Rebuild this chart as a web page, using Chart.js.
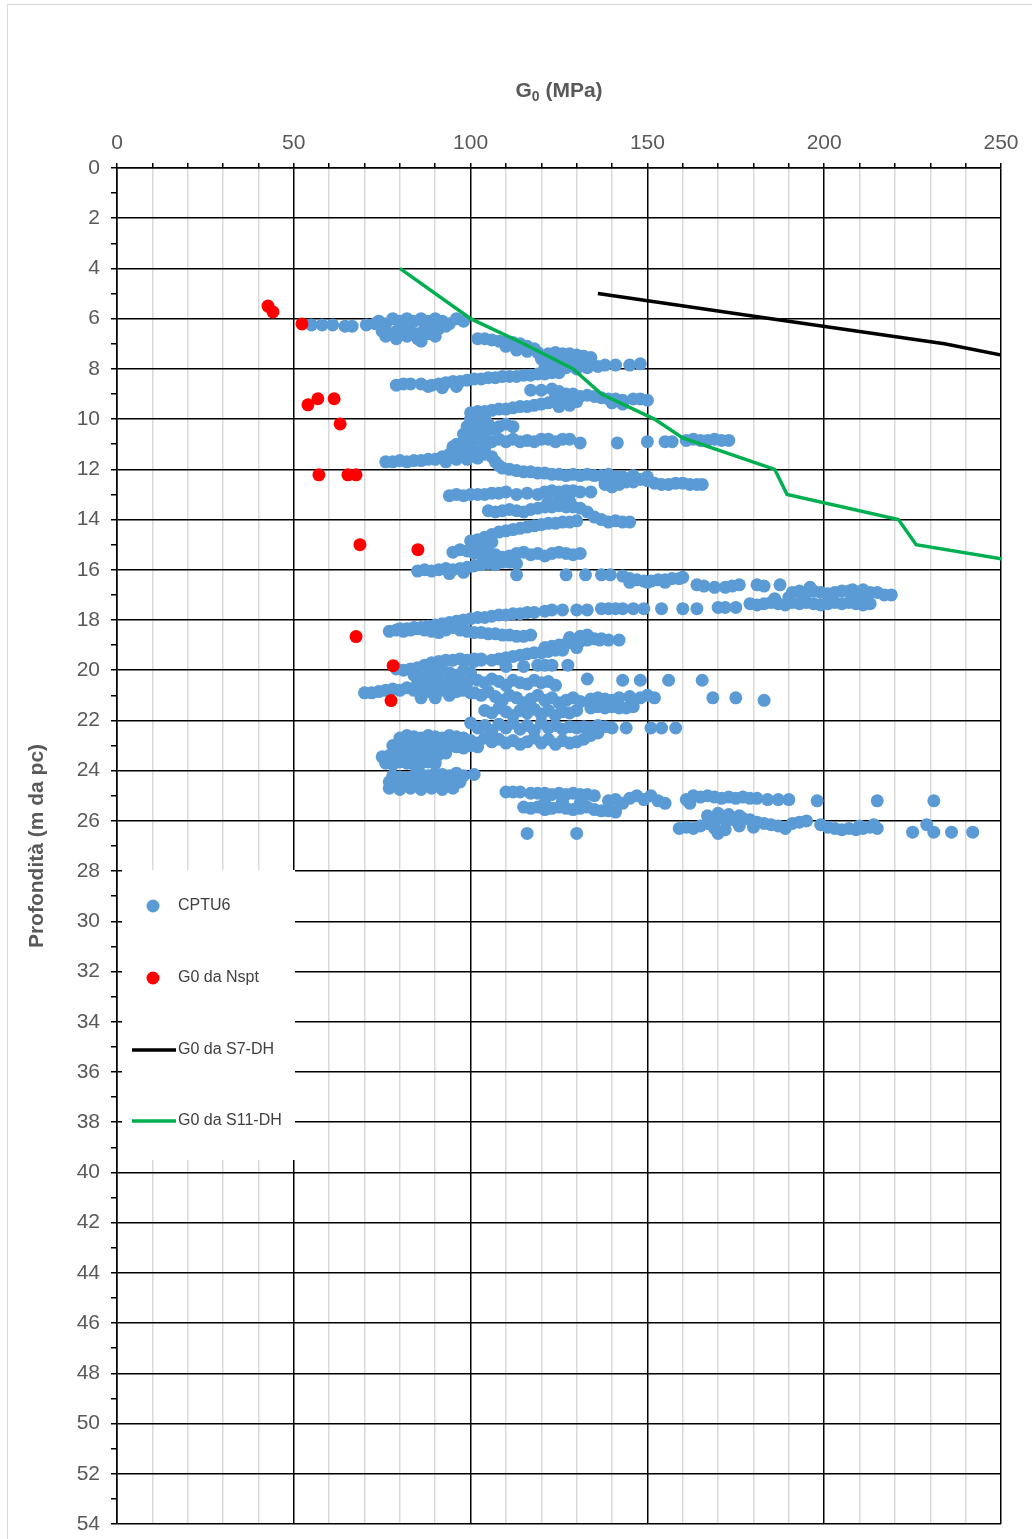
<!DOCTYPE html>
<html>
<head>
<meta charset="utf-8">
<script src="https://cdn.jsdelivr.net/npm/chart.js@4.4.0/dist/chart.umd.min.js"></script>
<style>
  html, body { margin: 0; padding: 0; background: #fff; }
  #frame { position: absolute; left: 7px; top: 4px; width: 1040px; height: 1560px; border: 1px solid #d9d9d9; }
  #g0 { position: absolute; left: 0; top: 0; }
</style>
</head>
<body>
<div id="frame"></div>
<canvas id="g0" width="1032" height="1539"></canvas>
<script>
// CPTU6 points, [G0 MPa, depth m], grouped by depth band
const cptu_06 = [[55,6.25],[58,6.25],[61,6.25],[64.5,6.3],[66.5,6.3],[70.5,6.25],[73,6.2],
  [74,6.1],[76,6.2],[78,6.0],[80,6.1],[82,6.0],[84,6.1],[86,6.0],[88,6.1],[90,6.0],[92,6.1],[94,6.2],[96,6.0],[98,6.1],
  [75,6.5],[77,6.6],[79,6.5],[81,6.4],[83,6.5],[85,6.6],[87,6.4],[89,6.5],[91,6.4],[93,6.3],
  [76,6.7],[79,6.8],[82,6.7],[85,6.8],[88,6.6],[90,6.7],[86,6.9]];
const cptu_07 = [[102,6.8],[104,6.8],[106,6.85],[108,6.9],[110,6.9],[112,6.95],[114,7.0],[116,7.1],[118,7.2],
  [110,7.1],[113,7.25],[116,7.3],[119,7.35],[122,7.4],[124,7.35],[126,7.4],[128,7.4],[130,7.45],[132,7.5],[134,7.55],
  [120,7.6],[122,7.7],[124,7.8],[126,7.75],[128,7.8],[130,7.7],[132,7.8],[134,7.85],[136,7.9],
  [121,7.95],[124,8.0],[127,7.95],[130,8.0],[133,7.95],[138,7.85],[141,7.85],[145,7.85],[148,7.8]];
const cptu_08 = [[79,8.65],[81,8.6],[83,8.6],[86,8.6],[89,8.65],[91,8.6],[93,8.55],[95,8.5],[97,8.5],[99,8.45],
  [101,8.4],[103,8.4],[105,8.35],[107,8.35],[109,8.3],[111,8.3],[113,8.3],[115,8.25],[117,8.25],[119,8.2],
  [121,8.2],[123,8.15],[125,8.15],[96,8.7],[92,8.75],[88,8.7]];
const cptu_09 = [[117,8.85],[120,8.85],[123,8.8],[125,8.9],[127,9.0],[129,9.0],[131,9.1],[133,9.05],[135,9.1],
  [137,9.15],[139,9.2],[141,9.2],[143,9.25],[140,9.35],[143,9.4],[146,9.2],[148,9.2],[150,9.25],[124,9.1],[126,9.2],[130,9.3],
  [100,9.75],[102,9.7],[104,9.7],[106,9.65],[108,9.6],[110,9.6],[112,9.55],[114,9.5],[116,9.5],[118,9.45],
  [120,9.4],[122,9.35],[125,9.5],[128,9.45]];
const cptu_10 = [[100,10.0],[102,10.1],[104,10.0],[99,10.3],[101,10.4],[103,10.3],[105,10.2],[98,10.6],[100,10.7],
  [102,10.6],[104,10.5],[106,10.4],[108,10.3],[110,10.2],[112,10.3],
  [96,11.0],[98,10.9],[100,11.0],[102,10.8],[104,10.9],[106,10.9],[108,10.8],[110,10.9],[112,10.8],[114,10.9],
  [116,10.85],[118,10.9],[120,10.8],[122,10.8],[124,10.9],[126,10.8],[128,10.8],[131,10.95],[141.5,10.95],
  [150,10.9],[155,10.9],[157,10.9],[161,10.85],[163,10.8],[165,10.85],[167,10.85],[169,10.8],[171,10.85],[173,10.85]];
const cptu_11 = [[76,11.7],[78,11.7],[80,11.65],[82,11.7],[84,11.65],[86,11.65],[88,11.6],[90,11.6],[92,11.5],
  [94,11.4],[96,11.3],[98,11.2],[100,11.2],[102,11.3],[104,11.4],[106,11.5],[93,11.7],[96,11.6],[99,11.6],
  [102,11.55],[95,11.1],[100,11.1],[104,11.15]];
const cptu_12 = [[107,11.7],[108,11.85],[109,11.95],[111,12.0],[113,12.05],[115,12.1],[117,12.1],[119,12.15],
  [121,12.15],[123,12.2],[125,12.2],[127,12.25],[129,12.2],[131,12.25],[133,12.2],[135,12.25],[137,12.25],
  [139,12.2],[141,12.3],[143,12.3],
  [138,12.6],[140,12.7],[142,12.6],[144,12.5],[146,12.5],[148,12.4],[150,12.45],[152,12.55],[154,12.6],
  [156,12.6],[158,12.55],[160,12.55],[162,12.6],[164,12.6],[165.5,12.6],[146,12.25],[150,12.3]];
const cptu_13 = [[94,13.05],[96,13.0],[98,13.05],[100,13.0],[102,13.0],[104,13.0],[106,12.95],[108,12.95],
  [110,12.9],[113,13.0],[116,12.95],[119,13.0],[121,12.9],[123,12.85],[125,12.9],[127,12.85],[129,12.85],
  [131,12.9],[134,12.9],
  [105,13.65],[107,13.7],[109,13.65],[111,13.6],[113,13.65],[115,13.7],[117,13.6],[119,13.55],[121,13.5],
  [123,13.5],[125,13.45],[127,13.5],[129,13.5],[131,13.55],[133,13.7],[135,13.9],[137,14.0],[139,14.1],
  [141,14.05],[143,14.1],[145,14.1],[122,13.3],[125,13.2],[128,13.25]];
const cptu_14 = [[100,14.85],[102,14.8],[104,14.7],[106,14.6],[108,14.5],[110,14.45],[112,14.4],[114,14.35],
  [116,14.3],[118,14.25],[120,14.2],[122,14.15],[124,14.15],[126,14.1],[128,14.1],[130,14.05],
  [102,15.1],[104,15.0],[106,14.9],[103,14.95]];
const cptu_15 = [[95,15.3],[97,15.2],[99,15.25],[101,15.35],[103,15.4],[105,15.3],[107,15.4],[109,15.5],
  [111,15.45],[113,15.35],[115,15.3],[117,15.4],[119,15.35],[121,15.45],[123,15.35],[125,15.3],[127,15.35],
  [129,15.4],[131,15.35],
  [85,16.05],[87,16.0],[89,16.05],[91,16.0],[93,15.95],[95,16.0],[97,15.95],[99,15.9],[101,15.85],[103,15.8],
  [105,15.75],[107,15.8],[109,15.7],[111,15.7],[113,15.75],[94,16.15],[98,16.1],[113,16.2],[127,16.2],
  [132.5,16.2],[137,16.2],[139.5,16.2]];
const cptu_16 = [[143,16.25],[145,16.35],[147,16.4],[149,16.45],[151,16.45],[153,16.4],[155,16.4],[157,16.35],
  [159,16.35],[160,16.3],[145,16.5],[150,16.5],[155,16.5],[164,16.6],[166,16.65],[169,16.7],[172,16.7],
  [174,16.65],[176,16.6],[181,16.6],[183,16.65],[187.5,16.6],[191,16.9],[193,16.85],[195,16.9],[197,16.85],
  [199,16.9],[201,16.95],[203,16.9],[205,16.85],[207,16.85],[209,16.95],[211,16.95],[213,16.9],[215,16.9],
  [217,17.0],[219,17.0],[196,16.7],[208,16.8],[211,16.8],
  [179,17.35],[181,17.4],[183,17.35],[185,17.3],[187,17.35],[189,17.4],[191,17.3],[193,17.35],[195,17.3],
  [197,17.35],[199,17.4],[201,17.35],[203,17.3],[205,17.35],[207,17.3],[209,17.35],[211,17.4],[213,17.35],
  [186,17.15],[190,17.1],[194,17.2]];
const cptu_18 = [[80,18.35],[82,18.35],[84,18.3],[86,18.3],[88,18.25],[90,18.2],[92,18.15],[94,18.1],[96,18.05],
  [98,18.0],[100,17.95],[102,17.9],[104,17.9],[106,17.85],[108,17.8],[110,17.8],[112,17.75],[114,17.75],
  [116,17.7],[118,17.7],[121,17.65],[123,17.6],[126,17.6],[130,17.6],[133,17.6],[137,17.55],[139,17.55],
  [141,17.55],[143,17.55],[146,17.55],[149,17.55],[154,17.55],[160,17.55],[164,17.55],[170,17.5],[172,17.5],[175,17.5],
  [77,18.45],[79,18.4],[81,18.45],[83,18.4],[85,18.35],[87,18.4],[89,18.45],[91,18.5],[93,18.4],[95,18.3],
  [97,18.4],[99,18.45],[101,18.5],[103,18.5],[105,18.55],[107,18.55],[109,18.6],[111,18.6],[113,18.65],
  [115,18.65],[117,18.6]];
const cptu_19 = [[121,19.1],[123,19.05],[125,19.0],[127,18.95],[129,18.9],[131,18.85],[133,18.8],[135,18.75],
  [137,18.75],[139,18.8],[128,18.7],[131,18.65],[133,18.6],[136.5,18.8],[142,18.8],[126,19.2],[130,19.1],
  [106,19.6],[108,19.55],[110,19.5],[112,19.45],[114,19.4],[116,19.35],[118,19.3],[120,19.3],[122,19.25],
  [124,19.2],[101,19.65],[103,19.6],
  [110,19.85],[115,19.85],[119,19.8],[121,19.8],[123,19.8],[127.5,19.8]];
const cptu_20 = [[79,19.95],[81,20.0],[83,19.95],[85,19.9],[87,19.8],[89,19.7],[91,19.65],[93,19.6],[95,19.6],
  [97,19.55],[99,19.6],[101,19.55],[103,19.55],
  [84,20.2],[86,20.3],[88,20.2],[90,20.1],[92,20.0],[94,20.1],[96,20.2],[98,20.0],[100,20.1],
  [85,20.5],[87,20.6],[89,20.5],[91,20.4],[93,20.5],[95,20.6],[97,20.4],[99,20.5],
  [70,20.9],[72,20.9],[74,20.85],[76,20.8],[78,20.75],[80,20.8],[82,20.7],[84,20.8],[86,20.9],[88,20.85],
  [90,20.9],[92,20.8],[94,20.9],[96,20.85],[98,20.8],[100,20.9],[86,21.1],[90,21.1],[94,21.0]];
const cptu_21 = [[102,20.4],[104,20.5],[106,20.35],[108,20.45],[110,20.6],[112,20.4],[114,20.5],[116,20.55],
  [118,20.4],[120,20.5],[122,20.45],[124,20.6],[133,20.35],[143,20.4],[148,20.4],[156,20.4],[165.5,20.4],
  [101,20.9],[103,21.0],[105,20.85],[107,21.05],[109,21.2],[111,21.0],[113,21.1],[115,21.3],[117,21.15],
  [119,21.0],[121,21.2],[123,21.1],[125,21.3],[127,21.2],[129,21.1],[131,21.25],[134,21.15],[136,21.1],
  [138,21.15],[140,21.2],[142,21.1],[145,21.05],[148,21.1],[150,21.0],[152,21.1],[168.5,21.1],[175,21.1],[183,21.2],
  [104,21.6],[106,21.7],[108,21.5],[110,21.65],[112,21.8],[114,21.6],[116,21.7],[118,21.55],[120,21.75],
  [122,21.6],[124,21.8],[126,21.65],[128,21.7],[130,21.6],[134,21.5],[136,21.45],[138,21.5],[140,21.45],
  [142,21.5],[144,21.5],[146,21.45]];
const cptu_22 = [[100,22.1],[102,22.3],[104,22.2],[106,22.4],[108,22.15],[110,22.3],[112,22.1],[114,22.35],
  [116,22.2],[118,22.4],[120,22.1],[122,22.3],[124,22.2],[126,22.35],[128,22.25],[130,22.3],[132,22.25],
  [134,22.3],[136,22.2],[138,22.25],[140,22.3],[144,22.3],[151,22.3],[154,22.3],[158,22.3],
  [100,22.8],[102,22.9],[104,22.7],[106,22.85],[108,22.75],[110,22.9],[112,22.8],[114,22.95],[116,22.85],
  [118,22.7],[120,22.9],[122,22.75],[124,22.95],[126,22.8],[128,22.9],[130,22.85],[132,22.75],[134,22.6],[136,22.5]];
const cptu_23 = [[80,22.7],[82,22.6],[84,22.65],[86,22.7],[88,22.6],[90,22.65],[92,22.7],[94,22.6],[96,22.65],[98,22.7],
  [78,23.0],[80,23.1],[82,22.95],[84,23.05],[86,23.1],[88,23.0],[90,23.05],[92,23.1],[94,23.0],[96,23.05],
  [98,23.1],[100,23.0],[102,23.05],
  [75,23.45],[77,23.4],[79,23.35],[81,23.4],[83,23.3],[85,23.35],[87,23.4],[89,23.3],[91,23.35],[93,23.3],
  [76,23.7],[78,23.75],[80,23.65],[82,23.7],[84,23.75],[86,23.7],[88,23.65],[90,23.7]];
const cptu_24 = [[78,24.2],[80,24.25],[82,24.3],[84,24.2],[86,24.15],[88,24.2],[90,24.1],[92,24.15],[94,24.2],
  [96,24.1],[98,24.2],[101,24.15],
  [77,24.45],[79,24.5],[81,24.45],[83,24.55],[85,24.5],[87,24.45],[89,24.5],[91,24.45],[93,24.5],[95,24.4],[97,24.45],
  [77,24.7],[80,24.75],[83,24.7],[86,24.75],[89,24.7],[92,24.75],[95,24.7]];
const cptu_25 = [[110,24.85],[112,24.85],[114,24.85],[117,24.9],[119,24.9],[121,24.9],[123,24.95],[125,24.9],
  [127,24.95],[129,24.9],[131,24.95],[133,24.95],[135,25.0],
  [115,25.45],[117,25.5],[119,25.45],[121,25.55],[123,25.5],[125,25.45],[127,25.5],[129,25.55],[131,25.5],
  [133,25.45],[135,25.55],[137,25.6],[139,25.6],[141,25.65],
  [139,25.2],[141,25.15],[143,25.3],[145,25.1],[147,25.0],[149,25.15],[151,25.0],[153,25.2],[155,25.3],
  [121,25.3],[126,25.2],[131,25.3],[116,26.5],[130,26.5]];
const cptu_26 = [[161,25.15],[163,25.0],[165,25.05],[167,25.0],[169,25.05],[171,25.1],[173,25.05],[175,25.1],
  [177,25.05],[179,25.1],[181,25.1],[184,25.15],[187,25.15],[190,25.15],[198,25.2],[215,25.2],[231,25.2],[162,25.3],
  [159,26.3],[161,26.25],[163,26.3],[165,26.2],[167,26.1],[169,26.0],[171,25.9],[173,25.95],[175,26.0],
  [177,25.9],[179,25.95],[181,26.05],[183,26.1],[185,26.15],[187,26.2],[189,26.3],[191,26.1],[193,26.05],[195,26.0],
  [167,25.8],[170,25.7],[173,25.75],[176,25.8],[169,26.3],[172,26.35],[176,26.2],[180,26.25],[170,26.5],
  [199,26.15],[201,26.25],[203,26.3],[205,26.35],[207,26.3],[209,26.35],[211,26.3],[213,26.25],[215,26.3],
  [214,26.15],[210,26.2],[225,26.45],[229,26.15],[231,26.45],[236,26.45],[242,26.45]];

const nspt = [[42.7,5.5],[44.1,5.73],[52.3,6.21],[54,9.43],[56.8,9.19],[61.4,9.19],[63.1,10.19],
  [57.1,12.22],[65.3,12.22],[67.6,12.22],[68.7,15.0],[85.1,15.2],[67.6,18.66],[78.1,19.82],[77.5,21.21]];

const s7dh = [[136,5],[185,6],[234,7],[270,8]];
const s11dh = [[80,4],[100,6],[115,7],[129,8],[137,9],[152,10],[160,10.75],[186,12],[189.5,13],[221,14],[226,15],[269,16]];

const xTicksMajor = [0, 50, 100, 150, 200, 250];
const depthMax = 54;

const cptu6 = [].concat(cptu_06, cptu_07, cptu_08, cptu_09, cptu_10, cptu_11, cptu_12, cptu_13,
  cptu_14, cptu_15, cptu_16, cptu_18, cptu_19, cptu_20, cptu_21, cptu_22, cptu_23, cptu_24, cptu_25, cptu_26);

const toXY = arr => arr.map(p => ({x: p[0], y: p[1]}));
const textGrey = '#595959';
const fontFam = '"Liberation Sans", Arial, sans-serif';

// legend box drawn inside the plot, like the excel one
const legendItems = [
  {label: 'CPTU6', kind: 'dot', color: '#5B9BD5', y: 906},
  {label: 'G0 da Nspt', kind: 'dot', color: '#FF0000', y: 978},
  {label: 'G0 da S7-DH', kind: 'line', color: '#000000', y: 1050},
  {label: 'G0 da S11-DH', kind: 'line', color: '#00B050', y: 1121},
];

const extras = {
  id: 'extras',
  afterDraw(chart) {
    const c = chart.ctx;
    c.save();
    // x axis title with subscript
    c.fillStyle = textGrey;
    c.textBaseline = 'alphabetic';
    const big = 'bold 21px ' + fontFam;
    const small = 'bold 14px ' + fontFam;
    c.font = big;
    const wG = c.measureText('G').width;
    const wRest = c.measureText(' (MPa)').width;
    c.font = small;
    const w0 = c.measureText('0').width;
    const cx = (chart.chartArea.left + chart.chartArea.right) / 2;
    let x = cx - (wG + w0 + wRest) / 2;
    const base = 97;
    c.font = big; c.textAlign = 'left';
    c.fillText('G', x, base); x += wG;
    c.font = small; c.fillText('0', x, base + 4); x += w0;
    c.font = big; c.fillText(' (MPa)', x, base);

    // legend
    c.fillStyle = '#fff';
    c.fillRect(122, 870, 173, 290);
    c.font = '16px ' + fontFam;
    c.textBaseline = 'middle';
    legendItems.forEach(it => {
      if (it.kind === 'dot') {
        c.fillStyle = it.color;
        c.beginPath(); c.arc(153, it.y, 6.5, 0, Math.PI * 2); c.fill();
      } else {
        c.strokeStyle = it.color; c.lineWidth = 3.5;
        c.beginPath(); c.moveTo(132, it.y); c.lineTo(176, it.y); c.stroke();
      }
      c.fillStyle = '#404040';
      c.fillText(it.label, 178, it.y);
    });
    c.restore();
  }
};

new Chart(document.getElementById('g0'), {
  type: 'scatter',
  data: {
    datasets: [
      {label: 'G0 da S11-DH', data: toXY(s11dh), showLine: true, borderColor: '#00B050', borderWidth: 3.5,
        pointRadius: 0, fill: false, order: 0},
      {label: 'G0 da S7-DH', data: toXY(s7dh), showLine: true, borderColor: '#000000', borderWidth: 3.5,
        pointRadius: 0, fill: false, order: 1},
      {label: 'G0 da Nspt', data: toXY(nspt), backgroundColor: '#FF0000', borderWidth: 0, pointRadius: 6.5, order: 2},
      {label: 'CPTU6', data: toXY(cptu6), backgroundColor: '#5B9BD5', borderWidth: 0, pointRadius: 6.5, order: 3},
    ]
  },
  options: {
    responsive: false,
    animation: false,
    layout: {padding: {left: 0, top: 0, right: 31, bottom: 15}},
    plugins: {legend: {display: false}, tooltip: {enabled: false}},
    scales: {
      x: {
        type: 'linear', position: 'top', min: 0, max: 250,
        afterFit(s) { s.height = 168; },
        ticks: {
          stepSize: 10, autoSkip: false, maxRotation: 0, padding: 7,
          color: textGrey, font: {family: fontFam, size: 21},
          callback: v => xTicksMajor.includes(v) ? v : ''
        },
        grid: {
          color: ctx => (ctx.tick && ctx.tick.value % 50 === 0) ? '#000' : '#d9d9d9',
          tickColor: '#000', lineWidth: 1.5, tickLength: 5
        },
        border: {color: '#000', width: 1.5}
      },
      y: {
        type: 'linear', reverse: true, min: 0, max: depthMax,
        afterFit(s) { s.width = 117; s.paddingTop = 0; s.paddingBottom = 0; },
        title: {display: true, text: 'Profondità (m da pc)', color: textGrey,
          font: {family: fontFam, size: 21, weight: 'bold'},
          padding: {top: 25, bottom: 0}},
        ticks: {
          stepSize: 1, autoSkip: false, padding: 11,
          color: textGrey, font: {family: fontFam, size: 21},
          callback: v => v % 2 === 0 ? v : ''
        },
        grid: {
          color: ctx => (ctx.tick && ctx.tick.value % 2 === 0) ? '#000' : 'rgba(0,0,0,0)',
          tickColor: '#000', lineWidth: 1.5, tickLength: 6
        },
        border: {color: '#000', width: 1.5}
      }
    }
  },
  plugins: [extras]
});
</script>
</body>
</html>
